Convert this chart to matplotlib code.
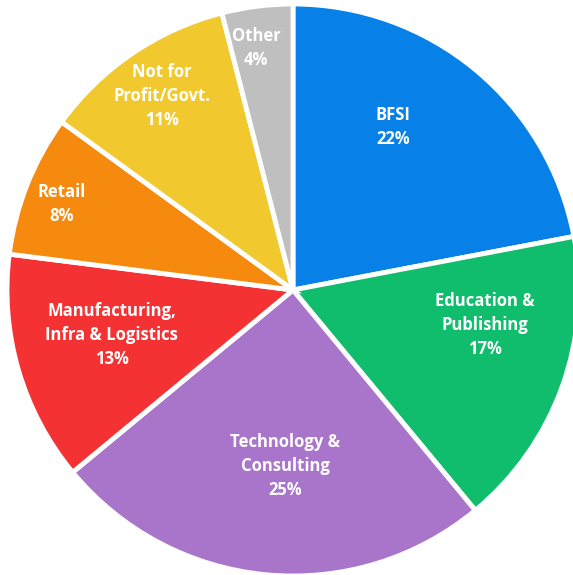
import matplotlib.pyplot as plt

sectors = ['BFSI', 'Education &\nPublishing', 'Technology &\nConsulting',
           'Manufacturing,\nInfra & Logistics', 'Retail', 'Not for\nProfit/Govt.', 'Other']
shares = [22, 17, 25, 13, 8, 11, 4]
colors = ['#0780E8', '#10BD6D', '#A875CB', '#F53233', '#F58A0E', '#F1C92F', '#BFBFBF']

# where each label sits, as a fraction of the radius (Excel style placement)
label_pos = [(0.353, 0.576), (0.678, -0.124), (-0.028, -0.622), (-0.640, -0.159),
             (-0.816, 0.304), (-0.463, 0.686), (-0.131, 0.855)]

W, H = 573, 575
cx, cy, R = 293, 290, 286

fig = plt.figure(figsize=(W / 100, H / 100), dpi=100)
ax = fig.add_axes([0, 0, 1, 1])

ax.pie(shares, colors=colors, startangle=90, counterclock=False, radius=1,
       wedgeprops=dict(edgecolor='white', linewidth=3.5))

for name, val, (x, y) in zip(sectors, shares, label_pos):
    ax.text(x * 283 / R, y * 283 / R, f'{name}\n{val}%', ha='center', va='center',
            color='white', fontsize=12, fontweight='bold', family='Open Sans',
            linespacing=1.42)

ax.set_xlim(-cx / R, (W - cx) / R)
ax.set_ylim(-(H - cy) / R, cy / R)
ax.set_aspect('auto')
ax.axis('off')

fig.savefig('out.png', dpi=100)
